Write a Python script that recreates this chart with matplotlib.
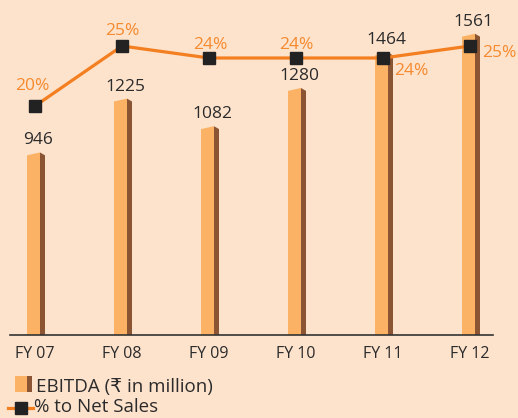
import matplotlib.pyplot as plt
from matplotlib.patches import Rectangle
from matplotlib.lines import Line2D

years = ['FY 07', 'FY 08', 'FY 09', 'FY 10', 'FY 11', 'FY 12']
ebitda = [946, 1225, 1082, 1280, 1464, 1561]
pct = [20, 25, 24, 24, 24, 25]
pct_labels = ['20%', '25%', '24%', '24%', '24%', '25%']
legend_labels = ['EBITDA (₹ in million)', '% to Net Sales']

bg = '#FDE2CC'
front_c = '#FBB264'
side_c = '#8B5433'
line_c = '#F47F20'
pct_c = '#F58A2E'
txt_c = '#2B2B2B'
mark_c = '#222222'

plt.rcParams['font.family'] = ['Open Sans', 'DejaVu Sans']

W, H = 518, 418
fig = plt.figure(figsize=(W / 100, H / 100), dpi=100, facecolor=bg)
ax = fig.add_axes([10 / W, 83 / H, 483 / W, 335 / H])
ax.set_facecolor(bg)

px = 1 / 87.0  # one pixel in x data units
fl, fr, sw = 8 * px, 5 * px, 5 * px
d = 15  # slant of the bar tops in value units

for i, h in enumerate(ebitda):
    ax.fill([i - fl, i - fl, i + fr, i + fr], [0, h - d, h, 0], color=front_c, lw=0)
    ax.fill([i + fr, i + fr, i + fr + sw, i + fr + sw], [0, h, h - d, 0], color=side_c, lw=0)
    ax.annotate(str(h), (i + fr, h), xytext=(-2, 4), textcoords='offset pixels',
                ha='center', va='bottom', fontsize=12.5, color=txt_c)

ax.set_xlim(-25 * px, 458 * px)
ax.set_ylim(0, 1736)
ax.set_xticks(range(len(years)))
ax.set_xticklabels(years, fontsize=11.5, color=txt_c)
ax.tick_params(length=0, pad=8)
ax.set_yticks([])
for s in ['top', 'right', 'left']:
    ax.spines[s].set_visible(False)
ax.spines['bottom'].set_color('#333333')
ax.spines['bottom'].set_linewidth(1.2)

ax2 = ax.twinx()
ax2.plot(range(len(pct)), pct, color=line_c, lw=2.3, marker='s', ms=8,
         mfc=mark_c, mec=mark_c, zorder=5)
ax2.set_ylim(25 - 289 / 12, 25 + 46 / 12)
ax2.set_yticks([])
for s in ['top', 'right', 'left', 'bottom']:
    ax2.spines[s].set_visible(False)

offsets = [(-3, 20, 'center'), (0, 15, 'center'), (1, 13, 'center'),
           (0, 13, 'center'), (11, -13, 'left'), (12, -7, 'left')]
for i, v in enumerate(pct):
    dx, dy, ha = offsets[i]
    ax2.annotate(pct_labels[i], (i, v), xytext=(dx, dy), textcoords='offset pixels',
                 ha=ha, va='center', fontsize=12.5, color=pct_c, annotation_clip=False)

# legend, drawn by hand (pixel positions measured from the top)
def fx(x):
    return x / W

def fy(y):
    return 1 - y / H

fig.patches.append(Rectangle((fx(15), fy(392)), 12 / W, 16 / H, transform=fig.transFigure,
                             color=front_c, lw=0))
fig.patches.append(Rectangle((fx(27), fy(392)), 5 / W, 16 / H, transform=fig.transFigure,
                             color=side_c, lw=0))
fig.lines.append(Line2D([fx(8), fx(33)], [fy(408), fy(408)], transform=fig.transFigure,
                        color=line_c, lw=2.3))
fig.lines.append(Line2D([fx(21)], [fy(408)], transform=fig.transFigure, marker='s', ms=8,
                        mfc=mark_c, mec=mark_c, lw=0))
fig.text(fx(36), fy(392), legend_labels[0], fontsize=13.5, color=txt_c, va='baseline')
fig.text(fx(34), fy(412), legend_labels[1], fontsize=13.5, color=txt_c, va='baseline')

fig.savefig('out.png', dpi=100, facecolor=bg)
